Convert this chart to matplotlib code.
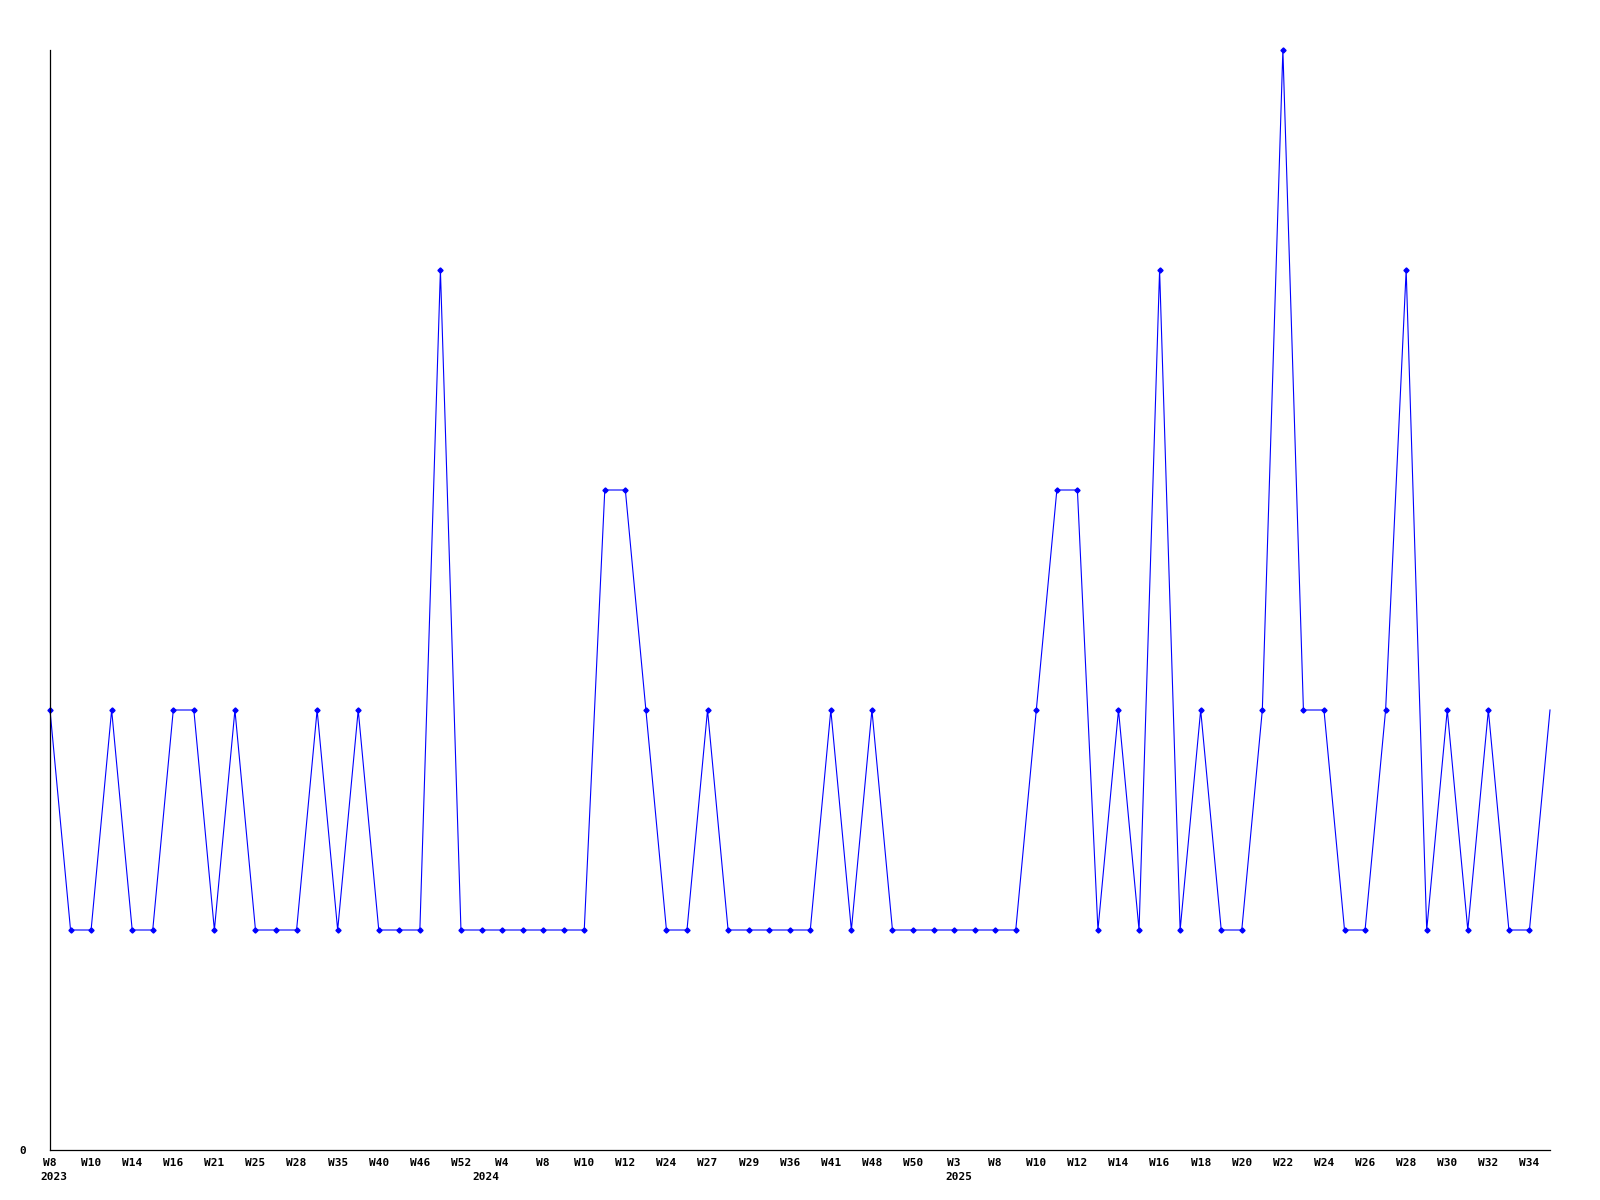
import matplotlib
matplotlib.use("Agg")
import matplotlib.pyplot as plt

# weekly counts
week_labels = [
    "W8", "W10", "W14", "W16", "W21", "W25", "W28", "W35", "W40", "W46",
    "W52", "W4", "W8", "W10", "W12", "W24", "W27", "W29", "W36", "W41",
    "W48", "W50", "W3", "W8", "W10", "W12", "W14", "W16", "W18", "W20",
    "W22", "W24", "W26", "W28", "W30", "W32", "W34",
]
counts = [
    2, 1, 1, 2, 1, 1, 2, 2, 1, 2, 1, 1, 1, 2, 1, 2, 1, 1, 1, 4,
    1, 1, 1, 1, 1, 1, 1, 3, 3, 2, 1, 1, 2, 1, 1, 1, 1, 1, 2, 1,
    2, 1, 1, 1, 1, 1, 1, 1, 2, 3, 3, 1, 2, 1, 4, 1, 2, 1, 1, 2,
    5, 2, 2, 1, 1, 2, 4, 1, 2, 1, 2, 1, 1, 2,
]
years = ["2023", "2024", "2025"]
year_index = [0, 22, 44]
year_shift_px = [-10, -30, -9]

LINE = "#0000ff"
FONT = "DejaVu Sans Mono"

fig = plt.figure(figsize=(16, 12), dpi=100)
ax = fig.add_axes([50 / 1600, 50 / 1200, 1500 / 1600, 1100 / 1200])

xs = list(range(len(counts)))
ax.plot(xs, counts, color=LINE, linewidth=0.8, marker="D", markersize=2.6,
        markevery=slice(0, len(counts) - 1), clip_on=False)

ax.set_xlim(0, len(counts) - 1)
ax.set_ylim(0, max(counts))

for side in ["top", "right"]:
    ax.spines[side].set_visible(False)
ax.spines["left"].set_linewidth(0.9)
ax.spines["bottom"].set_linewidth(0.9)

ax.set_xticks(xs[::2])
ax.set_xticklabels(week_labels, fontfamily=FONT, fontweight="bold", fontsize=8)
ax.tick_params(axis="x", length=0, pad=6)

ax.set_yticks([0])
ax.set_yticklabels(["0"], fontfamily=FONT, fontweight="bold", fontsize=8)
ax.tick_params(axis="y", length=0, pad=17)

for label, idx, shift in zip(years, year_index, year_shift_px):
    ax.annotate(label, xy=(idx, 0), xycoords=("data", "axes fraction"),
                xytext=(shift, -27), textcoords="offset pixels",
                ha="left", va="center", fontfamily=FONT, fontweight="bold",
                fontsize=8, annotation_clip=False)

fig.savefig("out.png", dpi=100)
